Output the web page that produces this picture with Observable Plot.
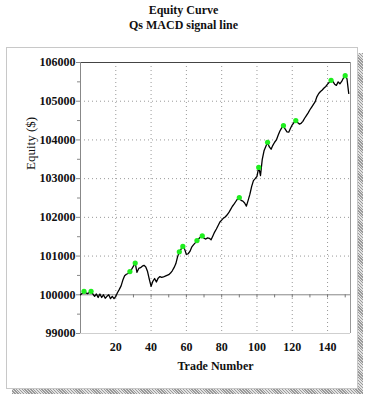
<!DOCTYPE html>
<html><head><meta charset="utf-8">
<script src="https://cdn.jsdelivr.net/npm/d3@7"></script>
<script src="https://cdn.jsdelivr.net/npm/@observablehq/plot@0.6"></script>
<style>
body{margin:0;width:367px;height:400px;position:relative;background:#fff;overflow:hidden;font-family:"Liberation Serif",serif;}
#title{position:absolute;top:3px;left:0;width:367px;text-align:center;font-weight:bold;font-size:12px;line-height:15px;color:#111;}
#shadow{position:absolute;left:12px;top:53px;width:351px;height:341px;background:repeating-linear-gradient(45deg,#9a9a9a 0 1px,#e2e2e2 1px 2px);}
#box{position:absolute;left:6px;top:47px;width:350px;height:340px;border:1px solid #c8c8c8;background:#fff;}
#chart{position:absolute;left:0;top:40px;}
</style></head>
<body>
<div id="title">Equity Curve<br>Qs MACD signal line</div>
<div id="shadow"></div>
<div id="box"></div>
<div id="chart"></div>
<script>
// Equity after each trade (trade number = index 0..152)
const equity = [
100000,100040,100090,100050,100030,100060,100090,100020,99960,100020,
99930,100020,99930,100000,99910,99960,100000,99900,99960,99900,
99960,100060,100140,100230,100380,100490,100530,100550,100600,100660,
100740,100820,100580,100680,100700,100740,100760,100720,100600,100400,
100220,100350,100420,100330,100430,100470,100450,100460,100480,100500,
100520,100560,100620,100700,100800,100980,101110,101180,101250,101180,
101040,101060,101120,101230,101290,101340,101400,101450,101490,101520,
101460,101440,101470,101460,101420,101520,101620,101700,101790,101880,
101930,101980,102010,102060,102120,102200,102280,102340,102410,102480,
102510,102440,102420,102370,102290,102440,102600,102800,102950,103000,
103060,103290,103080,103500,103720,103830,103940,103820,103760,103860,
103940,104000,104120,104230,104310,104370,104280,104210,104200,104300,
104390,104450,104500,104450,104410,104430,104480,104560,104630,104700,
104780,104850,104920,104990,105120,105200,105250,105290,105340,105380,
105440,105490,105540,105510,105440,105410,105500,105450,105510,105600,
105660,105580,105200
];
// New equity highs (green markers)
const highTrades = [2,6,28,31,56,58,66,69,90,101,106,115,122,142,150];
const highEquity = [100090,100090,100600,100820,101110,101250,101400,101520,102510,103290,103940,104370,104500,105540,105660];

const xTicks = [20,40,60,80,100,120,140];
const xMinor = [10,20,30,40,50,60,70,80,90,100,110,120,130,140,150];
const yTicks = [99000,100000,101000,102000,103000,104000,105000,106000];
const yMinor = [99500,100500,101500,102500,103500,104500,105500];
const yGrid = [101000,102000,103000,104000,105000];
const xDomain = [0,153];
const yDomain = [99000,106000];

const series = equity.map((v,i)=>({trade:i, equity:v}));
const highs = highTrades.map((t,i)=>({trade:t, equity:highEquity[i]}));

const chart = Plot.plot({
  width:367, height:360,
  marginLeft:80, marginRight:17, marginTop:22, marginBottom:67,
  x:{domain:xDomain}, y:{domain:yDomain},
  style:{fontFamily:"Liberation Serif", fontSize:"12px", fontWeight:"bold", background:"transparent", color:"#111", overflow:"visible"},
  marks:[
    Plot.ruleX(xTicks,{stroke:"#999",strokeDasharray:"1,3"}),
    Plot.ruleY(yGrid,{stroke:"#999",strokeDasharray:"1,3"}),
    Plot.ruleY([yDomain[0]],{stroke:"#cfcfcf"}),
    Plot.ruleX([xDomain[1]],{stroke:"#999"}),
    Plot.ruleY([100000],{stroke:"#888"}),
    Plot.ruleX(xMinor,{y1:100000,y2:99920,stroke:"#777"}),
    Plot.ruleY([yDomain[1]],{stroke:"#444"}),
    Plot.ruleX([xDomain[0]],{stroke:"#888"}),
    Plot.axisY(yTicks,{tickSize:4,tickPadding:1,stroke:"#888",label:null,tickFormat:d=>String(d)}),
    Plot.axisY(yMinor,{tickSize:3,stroke:"#888",label:null,tickFormat:()=>""}),
    Plot.axisX(xTicks,{tickSize:0,tickPadding:9,label:null,tickFormat:d=>String(d)}),
    Plot.line(series,{x:"trade",y:"equity",stroke:"#000",strokeWidth:1.3}),
    Plot.dot(highs,{x:"trade",y:"equity",r:2.6,fill:"#1fee1f",stroke:"none"}),
    Plot.text(["Trade Number"],{text:d=>d,frameAnchor:"bottom",dy:36,fontWeight:"bold",fontSize:12}),
    Plot.text(["Equity ($)"],{text:d=>d,frameAnchor:"left",dx:-50,dy:-28,rotate:-90,fontWeight:"normal",fontSize:13})
  ]
});
document.getElementById("chart").appendChild(chart);
</script>
</body></html>
